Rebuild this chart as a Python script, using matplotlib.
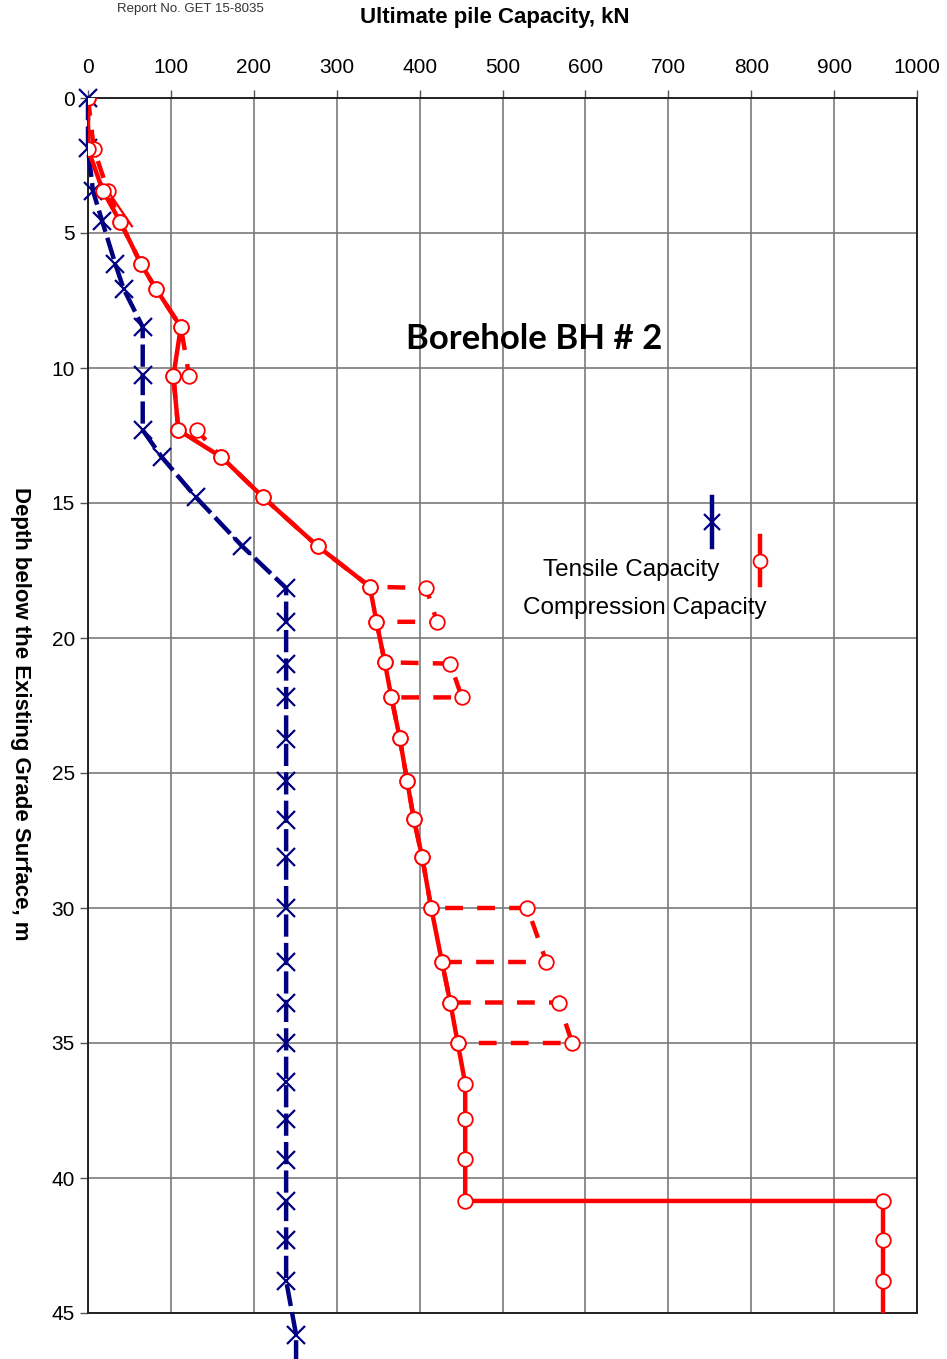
import matplotlib.pyplot as plt
from matplotlib.lines import Line2D

# --- data (capacity kN, depth m) ---
tens_depth = [0, 1.85, 3.44, 4.55, 6.15, 7.07, 8.48, 10.26, 12.3, 13.3, 14.78, 16.6,
              18.15, 19.4, 20.95, 22.2, 23.75, 25.3, 26.75, 28.1, 30.0, 32.0, 33.5,
              35.0, 36.45, 37.8, 39.35, 40.85, 42.3, 43.8, 45.8, 46.8]
tens_cap = [0, 0, 6, 17, 33, 43, 66, 66, 66, 89, 130, 186,
            239, 239, 239, 239, 239, 239, 239, 239, 239, 239, 239,
            239, 239, 239, 239, 239, 239, 239, 251, 251]

comp_depth = [0, 1.89, 3.44, 4.59, 6.15, 7.07, 8.48, 10.3, 12.3, 13.3, 14.78, 16.6,
              18.1, 19.4, 20.9, 22.2, 23.7, 25.3, 26.7, 28.1, 30.0, 32.0, 33.5, 35.0,
              36.5, 37.8, 39.3, 40.85, 40.85, 42.3, 43.8, 45.5]
comp_cap = [0, 0, 18, 39, 64, 82, 112, 103, 109, 161, 211, 277,
            340, 348, 358, 366, 376, 385, 393, 403, 414, 427, 437, 446,
            455, 455, 455, 455, 959, 959, 959, 959]

# second (dashed) compression trace
alt_depth = [0, 1.89, 3.44, 4.59, 6.15, 7.07, 8.48, 10.3, 10.3, 12.3, 12.3, 13.3, 14.78,
             16.6, 18.1, 18.15, 19.4, 19.4, 20.9, 20.95, 22.2, 22.2, 23.7, 25.3, 26.7,
             28.1, 30.0, 30.0, 32.0, 32.0, 33.5, 33.5, 35.0, 35.0]
alt_cap = [0, 7, 24, 39, 64, 82, 112, 122, 103, 109, 131, 161, 211,
           277, 340, 408, 421, 348, 358, 437, 451, 366, 376, 385, 393,
           403, 414, 530, 553, 427, 437, 568, 584, 446]

ghost_depth = [3.44, 4.75]
ghost_cap = [24, 53]

x_ticks = list(range(0, 1001, 100))
y_ticks = list(range(0, 46, 5))

BLUE = "#000080"
RED = "#FF0000"
W, H = 947, 1359

plt.rcParams['font.family'] = ['Liberation Sans', 'DejaVu Sans']

fig = plt.figure(figsize=(W / 100, H / 100), dpi=100)
ax = fig.add_axes([88 / W, 1 - 1313 / H, (917 - 88) / W, (1313 - 98) / H])

ax.set_xlim(0, 1000)
ax.set_ylim(45, 0)
ax.set_xticks(x_ticks)
ax.set_yticks(y_ticks)
ax.xaxis.tick_top()
ax.tick_params(axis='both', labelsize=15, length=6, width=1, color='#555555')
ax.tick_params(axis='x', pad=9)
ax.grid(True, color='#7a7a7a', linewidth=1.2)
ax.set_axisbelow(True)
for s in ax.spines.values():
    s.set_color('#222222')
    s.set_linewidth(1.4)

# tensile
ax.plot(tens_cap, tens_depth, color=BLUE, lw=3.2, dashes=[5, 1.4],
        marker='x', ms=13, mew=1.6, mec=BLUE, clip_on=False, zorder=3,
        markevery=list(range(len(tens_cap) - 1)))

# compression traces
ax.plot(alt_cap, alt_depth, color=RED, lw=3.2, dashes=[4, 3.2],
        marker='o', ms=10.5, mfc='white', mec=RED, mew=1.3, zorder=4)
ax.plot(ghost_cap, ghost_depth, color=RED, lw=1.6, zorder=4)
ax.plot(comp_cap, comp_depth, color=RED, lw=3.2, marker='o', ms=10.5,
        mfc='white', mec=RED, mew=1.3, markevery=list(range(len(comp_cap) - 1)),
        zorder=5)


def fx(px):
    return px / W


def fy(py):
    return 1 - py / H


fig.text(fx(495), fy(18), "Ultimate pile Capacity, kN", fontsize=16,
         fontweight='bold', ha='center', va='center')
fig.text(fx(20), fy(714), "Depth below the Existing Grade Surface, m",
         rotation=270, ha='center', va='center', fontsize=16, fontweight='bold')

ax.text(538, (339 - 98) / 27, "Borehole BH # 2", family=['Lato', 'DejaVu Sans'],
        fontsize=25, fontweight='bold', ha='center', va='center')

fig.text(fx(190), fy(9), "Report No. GET 15-8035",
         family=['Liberation Sans Narrow', 'Liberation Sans', 'DejaVu Sans'],
         fontsize=9.5, color='#333333', ha='center', va='center')

# legend drawn by hand
fig.add_artist(Line2D([fx(712), fx(712)], [fy(497), fy(547)], color=BLUE, lw=3.2))
fig.add_artist(Line2D([fx(712)], [fy(522)], color=BLUE, marker='x', ms=11, mew=1.6, ls='none'))
fig.add_artist(Line2D([fx(760), fx(760)], [fy(536), fy(585)], color=RED, lw=3.2))
fig.add_artist(Line2D([fx(760)], [fy(561)], color=RED, marker='o', ms=10, mfc='white',
                      mew=1.3, ls='none'))
fig.text(fx(631), fy(570), "Tensile Capacity", fontsize=17.5, ha='center', va='center')
fig.text(fx(645), fy(608), "Compression Capacity", fontsize=17.5, ha='center', va='center')

fig.savefig("out.png", dpi=100)
